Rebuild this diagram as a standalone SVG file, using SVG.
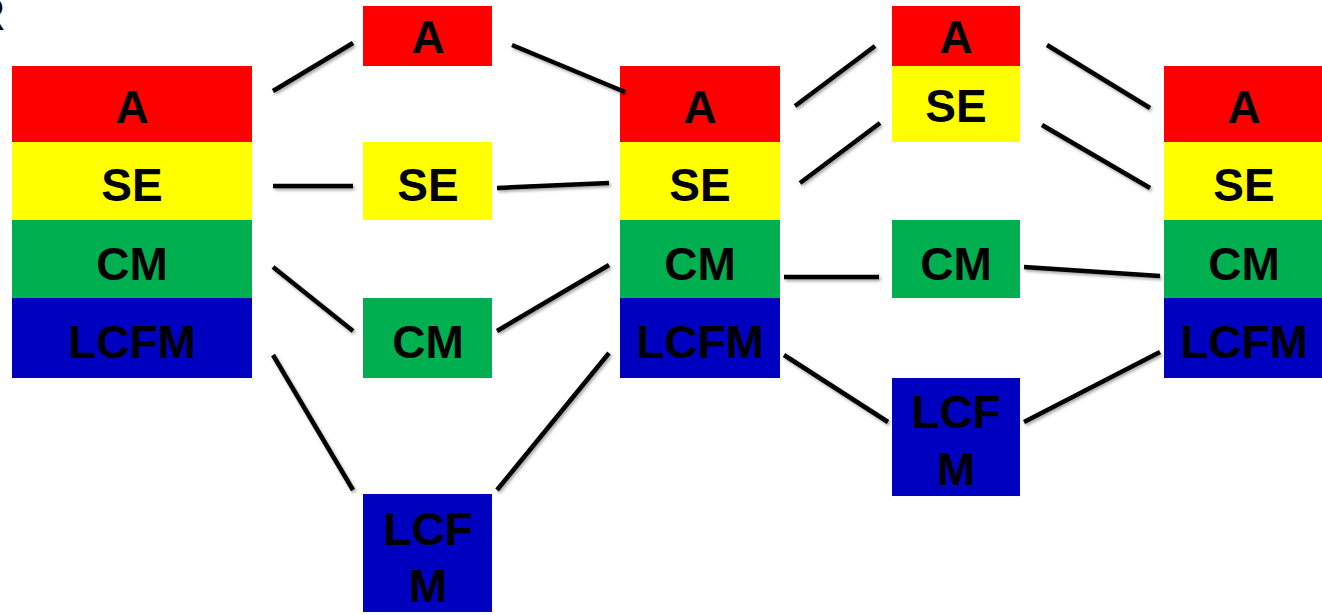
<svg xmlns="http://www.w3.org/2000/svg" width="1322" height="615" viewBox="0 0 1322 615">
<style>
.r{fill:#FF0000}.y{fill:#FFFF00}.g{fill:#00B050}.b{fill:#0000C0}
text{font-family:"Liberation Sans",Arial,sans-serif;font-weight:bold;font-size:46px;fill:#000;text-anchor:middle}
.c line{stroke:#000;stroke-width:4.5;stroke-linecap:butt}
</style>
<defs>
<filter id="sh" x="-20%" y="-20%" width="140%" height="140%">
<feDropShadow dx="1.5" dy="2" stdDeviation="1.5" flood-color="#000" flood-opacity="0.35"/>
</filter>
</defs>
<rect width="1322" height="615" fill="#fff"/>
<text x="-12" y="30">R</text>
<g id="stack1">
<rect class="r" x="12" y="66" width="240" height="76"/><text x="132" y="123">A</text>
<rect class="y" x="12" y="142" width="240" height="78"/><text x="132" y="201">SE</text>
<rect class="g" x="12" y="220" width="240" height="78"/><text x="132" y="280">CM</text>
<rect class="b" x="12" y="298" width="240" height="80"/><text x="132" y="358">LCFM</text>
</g>
<g id="c1A"><rect class="r" x="363" y="6" width="129" height="60"/><text x="428" y="53">A</text></g>
<g id="c1SE"><rect class="y" x="363" y="142" width="129" height="78"/><text x="428" y="201">SE</text></g>
<g id="c1CM"><rect class="g" x="363" y="298" width="129" height="80"/><text x="428" y="358">CM</text></g>
<g id="c1LCFM"><rect class="b" x="363" y="494" width="129" height="118"/><text x="428" y="545">LCF</text><text x="428" y="602">M</text></g>
<g id="stack2">
<rect class="r" x="620" y="66" width="160" height="76"/><text x="700" y="123">A</text>
<rect class="y" x="620" y="142" width="160" height="78"/><text x="700" y="201">SE</text>
<rect class="g" x="620" y="220" width="160" height="78"/><text x="700" y="280">CM</text>
<rect class="b" x="620" y="298" width="160" height="80"/><text x="700" y="358">LCFM</text>
</g>
<g id="c2ASE">
<rect class="r" x="892" y="6" width="128" height="60"/><text x="956" y="53">A</text>
<rect class="y" x="892" y="66" width="128" height="76"/><text x="956" y="122">SE</text>
</g>
<g id="c2CM"><rect class="g" x="892" y="220" width="128" height="78"/><text x="956" y="280">CM</text></g>
<g id="c2LCFM"><rect class="b" x="892" y="378" width="128" height="118"/><text x="956" y="428">LCF</text><text x="956" y="485">M</text></g>
<g id="stack3">
<rect class="r" x="1164" y="66" width="158" height="76"/><text x="1244" y="123">A</text>
<rect class="y" x="1164" y="142" width="158" height="78"/><text x="1244" y="201">SE</text>
<rect class="g" x="1164" y="220" width="158" height="78"/><text x="1244" y="280">CM</text>
<rect class="b" x="1164" y="298" width="158" height="80"/><text x="1244" y="358">LCFM</text>
</g>
<g id="connectors" class="c" filter="url(#sh)">
<line x1="273" y1="91" x2="353" y2="43"/>
<line x1="273" y1="186" x2="353" y2="186"/>
<line x1="273" y1="267" x2="353" y2="331"/>
<line x1="273" y1="355" x2="353" y2="490"/>
<line x1="512" y1="45" x2="625" y2="92"/>
<line x1="497" y1="188" x2="609" y2="183"/>
<line x1="497" y1="331" x2="609" y2="265"/>
<line x1="497" y1="490" x2="609" y2="353"/>
<line x1="795" y1="106" x2="875" y2="46"/>
<line x1="800" y1="183" x2="880" y2="123"/>
<line x1="784" y1="277" x2="879" y2="277"/>
<line x1="784" y1="355" x2="888" y2="422"/>
<line x1="1047" y1="45" x2="1150" y2="108"/>
<line x1="1042" y1="125" x2="1150" y2="188"/>
<line x1="1024" y1="267" x2="1160" y2="276"/>
<line x1="1024" y1="422" x2="1160" y2="352"/>
</g>
</svg>
